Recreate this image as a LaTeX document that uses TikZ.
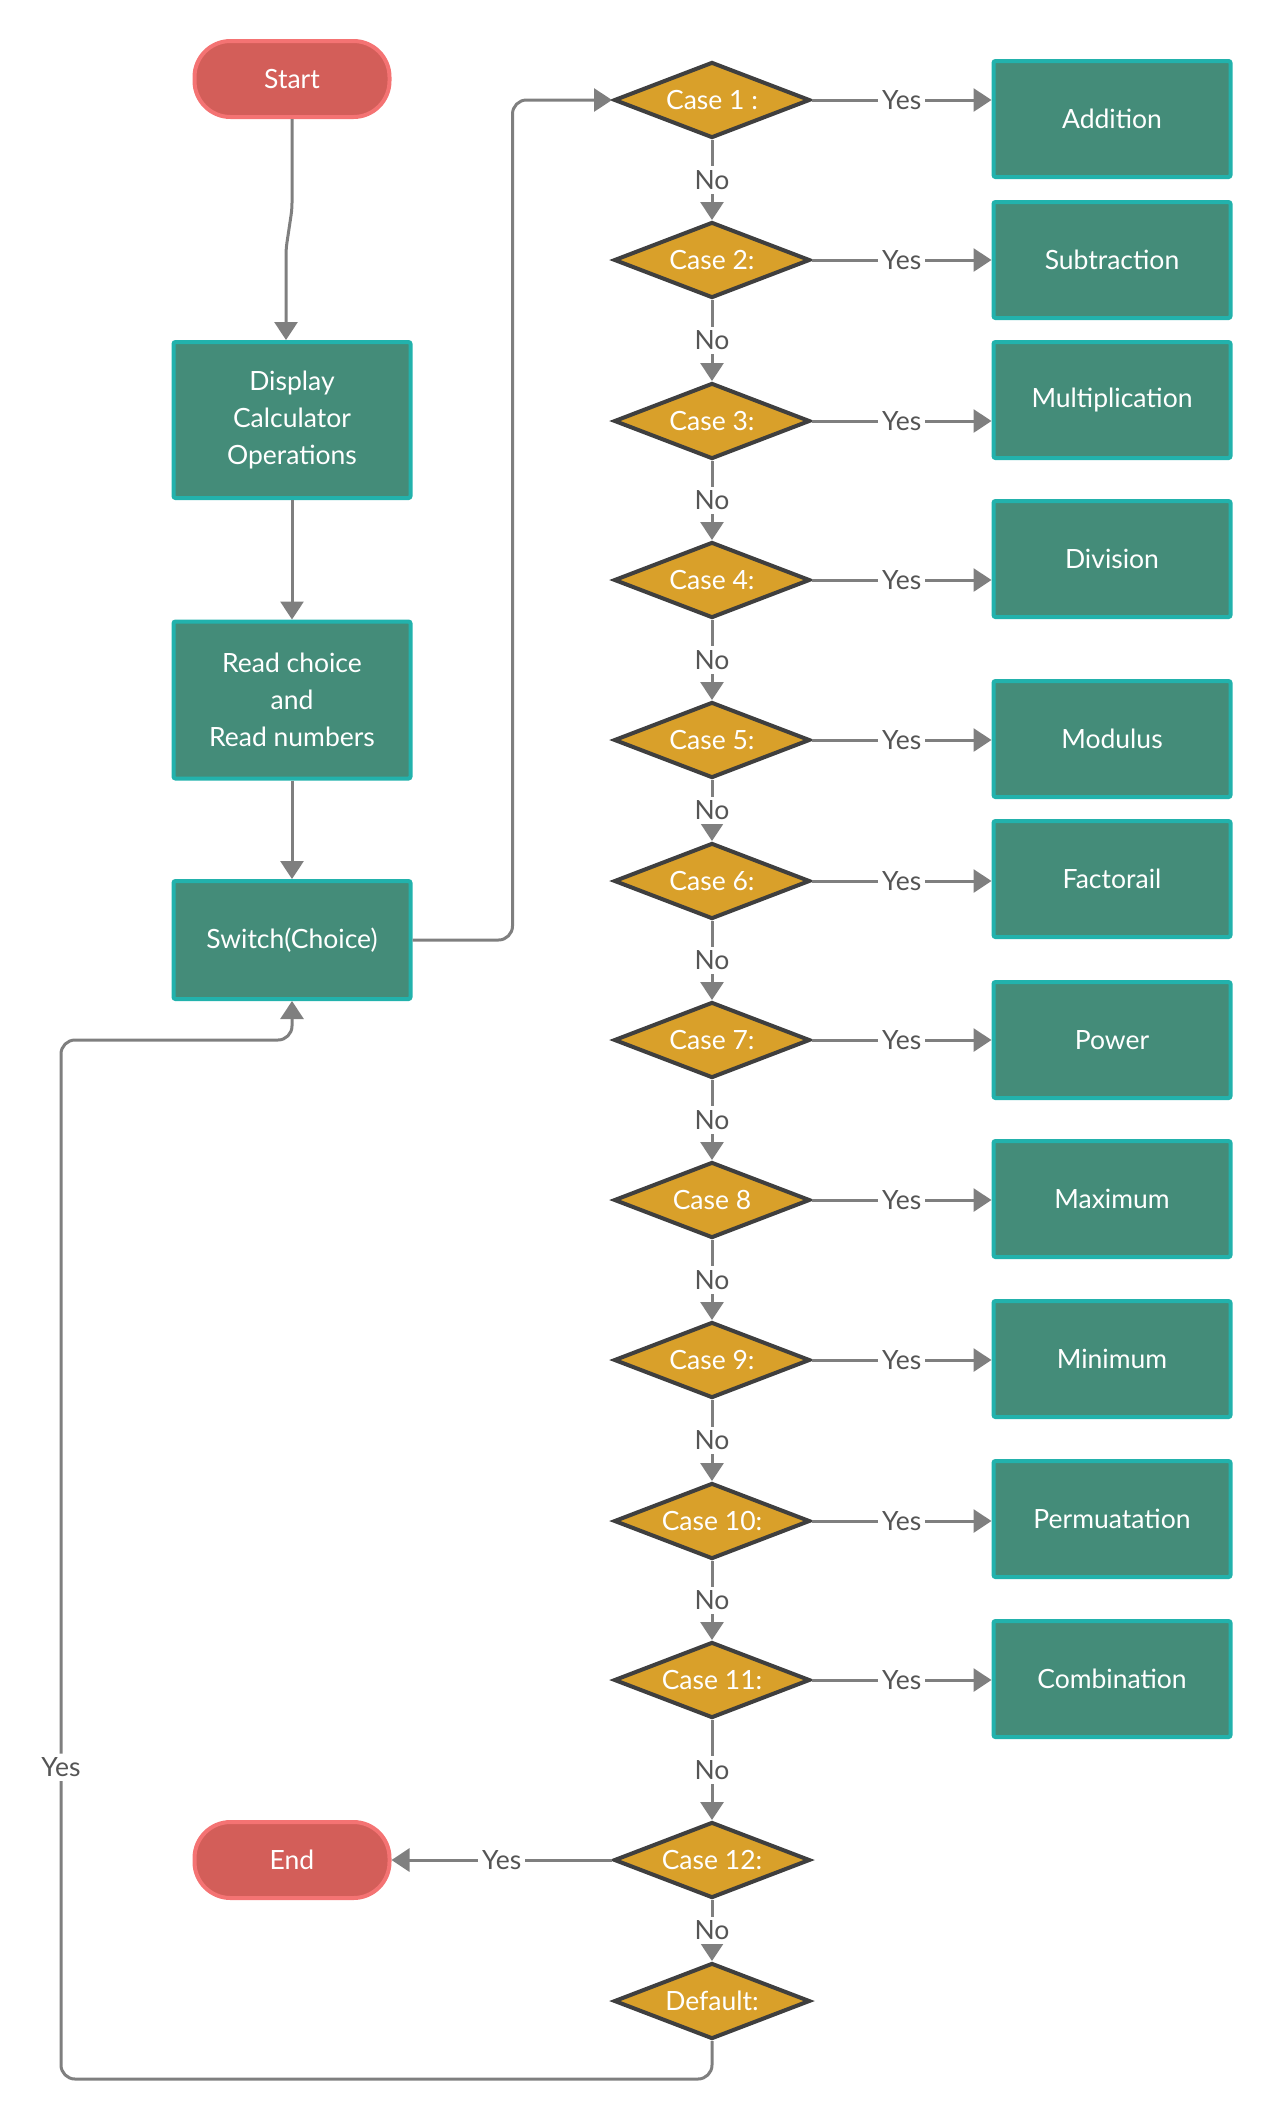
\documentclass[tikz,border=0pt]{standalone}
\usepackage{fontspec}
\setmainfont{Lato}
\usetikzlibrary{shapes.geometric,arrows.meta,calc}
\definecolor{termfill}{HTML}{D35E59}
\definecolor{termline}{HTML}{F47373}
\definecolor{procfill}{HTML}{448C79}
\definecolor{procline}{HTML}{22B2AC}
\definecolor{decfill}{HTML}{D9A02A}
\definecolor{decline}{HTML}{3F3F3F}
\definecolor{wire}{HTML}{7F7F7F}
\definecolor{labeltext}{HTML}{555555}
\begin{document}
\begin{tikzpicture}[x=1pt,y=-1pt,
  every node/.style={font=\fontsize{26.5}{37}\selectfont},
  term/.style={draw=termline, fill=termfill, line width=4pt, text=white,
    minimum width=195pt, minimum height=76pt, rounded corners=36pt},
  proc/.style={draw=procline, fill=procfill, line width=4pt, text=white,
    minimum width=237pt, align=center, rounded corners=2pt},
  dec/.style={diamond, aspect=2.55, draw=decline, fill=decfill, line width=4pt, text=white,
    minimum width=196pt, minimum height=76pt, inner sep=0pt},
  conn/.style={draw=wire, line width=3pt, -{Triangle[length=18pt,width=23pt]}},
  lbl/.style={fill=white, text=labeltext, inner sep=4pt}
]
\useasboundingbox (0,0) rectangle (1273,2121);

% main column
\node[term] (start) at (292,79) {Start};
\node[proc, minimum height=156pt] (disp) at (292,420) {Display\\Calculator\\Operations};
\node[proc, minimum height=157pt] (read) at (292,700) {Read choice\\and\\Read numbers};
\node[proc, minimum height=118pt] (sw) at (292,940) {Switch(Choice)};
\node[term] (end) at (292,1860) {End};

% decision column
\node[dec] (c1) at (712,100) {Case 1 :};
\node[dec] (c2) at (712,260) {Case 2:};
\node[dec] (c3) at (712,421) {Case 3:};
\node[dec] (c4) at (712,580) {Case 4:};
\node[dec] (c5) at (712,740) {Case 5:};
\node[dec] (c6) at (712,881) {Case 6:};
\node[dec] (c7) at (712,1040) {Case 7:};
\node[dec] (c8) at (712,1200) {Case 8};
\node[dec] (c9) at (712,1360) {Case 9:};
\node[dec] (c10) at (712,1521) {Case 10:};
\node[dec] (c11) at (712,1680) {Case 11:};
\node[dec] (c12) at (712,1860) {Case 12:};
\node[dec] (def) at (712,2001) {Default:};

% operation boxes
\node[proc, minimum height=116pt] (o1) at (1112,119) {Addition};
\node[proc, minimum height=116pt] (o2) at (1112,260) {Subtraction};
\node[proc, minimum height=116pt] (o3) at (1112,400) {Multiplication};
\node[proc, minimum height=116pt] (o4) at (1112,559) {Division};
\node[proc, minimum height=116pt] (o5) at (1112,739) {Modulus};
\node[proc, minimum height=116pt] (o6) at (1112,879) {Factorail};
\node[proc, minimum height=116pt] (o7) at (1112,1040) {Power};
\node[proc, minimum height=116pt] (o8) at (1112,1199) {Maximum};
\node[proc, minimum height=116pt] (o9) at (1112,1359) {Minimum};
\node[proc, minimum height=116pt] (o10) at (1112,1519) {Permuatation};
\node[proc, minimum height=116pt] (o11) at (1112,1679) {Combination};

% main column flow
\draw[conn, rounded corners=6pt] (start.south) -- ++(0,90) -- ++(-6,40) -- ([xshift=-6pt]disp.north);
\draw[conn] (disp.south) -- (read.north);
\draw[conn] (read.south) -- (sw.north);
\draw[conn, rounded corners=14pt] (sw.east) -- ++(100,0) |- (c1.west);

% "No" chain
\foreach \a/\b in {c1/c2,c2/c3,c3/c4,c4/c5,c5/c6,c6/c7,c7/c8,c8/c9,c9/c10,c10/c11,c11/c12,c12/def}
  \draw[conn] (\a.south) -- node[lbl]{No} (\b.north);

% "Yes" branches
\foreach \i in {1,...,11}
  \draw[conn] (c\i.east) -- node[lbl]{Yes} (c\i.east -| o\i.west);

\draw[conn] (c12.west) -- node[lbl]{Yes} (end.east);

% default loops back to the switch
\coordinate (loopbl) at (61,2079);
\coordinate (looptl) at (61,1040);
\draw[conn, rounded corners=14pt] (def.south) |- (loopbl) -- node[lbl, pos=0.3]{Yes} (looptl) -| (sw.south);
\end{tikzpicture}
\end{document}
